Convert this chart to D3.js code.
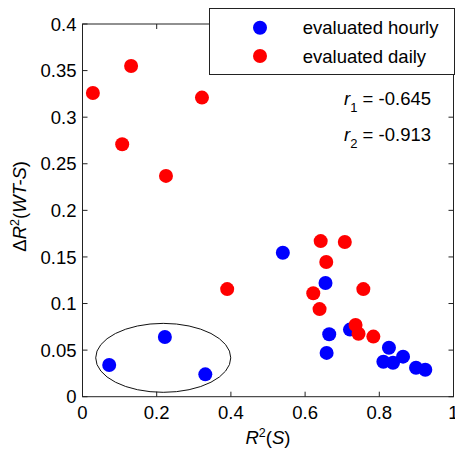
<!DOCTYPE html>
<html>
<head>
<meta charset="utf-8">
<script src="https://cdn.jsdelivr.net/npm/d3@7"></script>
<style>
  html, body { margin: 0; padding: 0; background: #fff; }
  svg { display: block; font-family: Arial, "Liberation Sans", sans-serif; }
</style>
</head>
<body>
<div id="chart"></div>
<script>
// R2(S) vs delta R2(WT-S), hourly vs daily evaluation
const hourlyX = [0.072, 0.222, 0.331, 0.540, 0.655, 0.665, 0.658, 0.721, 0.826, 0.864, 0.811, 0.837, 0.899, 0.924];
const hourlyY = [0.034, 0.064, 0.024, 0.1545, 0.122, 0.067, 0.047, 0.072, 0.0525, 0.043, 0.0375, 0.0365, 0.031, 0.029];
const dailyX = [0.028, 0.131, 0.107, 0.322, 0.225, 0.390, 0.642, 0.707, 0.657, 0.622, 0.757, 0.639, 0.736, 0.744, 0.784];
const dailyY = [0.326, 0.355, 0.271, 0.321, 0.237, 0.1155, 0.167, 0.166, 0.1445, 0.111, 0.1155, 0.094, 0.077, 0.0675, 0.0645];
const seriesNames = ['evaluated hourly', 'evaluated daily'];
const seriesColors = ['#0000ff', '#ff0000'];
const xTicks = [0, 0.2, 0.4, 0.6, 0.8, 1];
const xTickLabels = ['0', '0.2', '0.4', '0.6', '0.8', '1'];
const yTicks = [0, 0.05, 0.1, 0.15, 0.2, 0.25, 0.3, 0.35, 0.4];
const yTickLabels = ['0', '0.05', '0.1', '0.15', '0.2', '0.25', '0.3', '0.35', '0.4'];
const corrLabels = [['1', '= -0.645'], ['2', '= -0.913']];
// highlighted cluster (center x, center y, half-width, half-height) in data units
const ellipse = {cx: 0.2176, cy: 0.0417, rx: 0.182, ry: 0.037};

const W = 455, H = 456;
const svg = d3.select('#chart').append('svg').attr('width', W).attr('height', H);

const x = d3.scaleLinear().domain([0, 1]).range([82.5, 453.5]);
const y = d3.scaleLinear().domain([0, 0.4]).range([396.7, 24]);
const fs = 18.5;

// frame
svg.append('rect')
  .attr('x', x(0)).attr('y', y(0.4))
  .attr('width', x(1) - x(0)).attr('height', y(0) - y(0.4))
  .attr('fill', 'none').attr('stroke', '#222').attr('stroke-width', 1);

// ticks (inward, on all four sides)
const tl = 5;
xTicks.forEach(v => {
  svg.append('line').attr('x1', x(v)).attr('x2', x(v)).attr('y1', y(0)).attr('y2', y(0) - tl).attr('stroke', '#222');
  svg.append('line').attr('x1', x(v)).attr('x2', x(v)).attr('y1', y(0.4)).attr('y2', y(0.4) + tl).attr('stroke', '#222');
});
yTicks.forEach(v => {
  svg.append('line').attr('x1', x(0)).attr('x2', x(0) + tl).attr('y1', y(v)).attr('y2', y(v)).attr('stroke', '#222');
  svg.append('line').attr('x1', x(1)).attr('x2', x(1) - tl).attr('y1', y(v)).attr('y2', y(v)).attr('stroke', '#222');
});

svg.selectAll('.xt').data(xTicks).enter().append('text')
  .attr('x', d => x(d)).attr('y', 418.5)
  .attr('text-anchor', 'middle').attr('font-size', fs)
  .text((d, i) => xTickLabels[i]);
svg.selectAll('.yt').data(yTicks).enter().append('text')
  .attr('x', 76.5).attr('y', d => y(d) + 6.7)
  .attr('text-anchor', 'end').attr('font-size', fs)
  .text((d, i) => yTickLabels[i]);

// axis titles
const xt = svg.append('text').attr('x', (x(0) + x(1)) / 2).attr('y', 444)
  .attr('text-anchor', 'middle').attr('font-size', fs);
xt.append('tspan').attr('font-style', 'italic').text('R');
xt.append('tspan').attr('font-size', 12.5).attr('dy', -7).text('2');
xt.append('tspan').attr('dy', 7).text('(');
xt.append('tspan').attr('font-style', 'italic').text('S');
xt.append('tspan').text(')');

const yt = svg.append('text')
  .attr('transform', `translate(25.5,${(y(0) + y(0.4)) / 2 - 4}) rotate(-90)`)
  .attr('text-anchor', 'middle').attr('font-size', fs);
yt.append('tspan').text('\u0394');
yt.append('tspan').attr('font-style', 'italic').text('R');
yt.append('tspan').attr('font-size', 12.5).attr('dy', -7).text('2');
yt.append('tspan').attr('dy', 7).text('(');
yt.append('tspan').attr('font-style', 'italic').text('WT-S');
yt.append('tspan').text(')');

// ellipse around cluster
svg.append('ellipse')
  .attr('cx', x(ellipse.cx)).attr('cy', y(ellipse.cy))
  .attr('rx', x(ellipse.rx) - x(0)).attr('ry', y(0) - y(ellipse.ry))
  .attr('fill', 'none').attr('stroke', '#111').attr('stroke-width', 1);

// points: hourly first, daily on top
const R = 7;
svg.append('g').selectAll('circle').data(hourlyX.map((v, i) => [v, hourlyY[i]])).enter()
  .append('circle').attr('cx', d => x(d[0])).attr('cy', d => y(d[1])).attr('r', R).attr('fill', seriesColors[0]);
svg.append('g').selectAll('circle').data(dailyX.map((v, i) => [v, dailyY[i]])).enter()
  .append('circle').attr('cx', d => x(d[0])).attr('cy', d => y(d[1])).attr('r', R).attr('fill', seriesColors[1]);

// correlation labels
corrLabels.forEach((c, i) => {
  const t = svg.append('text').attr('x', 431).attr('y', 105 + i * 36)
    .attr('text-anchor', 'end').attr('font-size', fs);
  t.append('tspan').attr('font-style', 'italic').text('r');
  t.append('tspan').attr('font-size', 13).attr('dy', 7).text(c[0]);
  t.append('tspan').attr('dy', -7).text(' ' + c[1]);
});

// legend
const lg = svg.append('g');
lg.append('rect').attr('x', 209.5).attr('y', 8.5).attr('width', 245).attr('height', 66)
  .attr('fill', '#fff').attr('stroke', '#222').attr('stroke-width', 1);
seriesNames.forEach((name, i) => {
  lg.append('circle').attr('cx', 260).attr('cy', 27.7 + i * 28.3).attr('r', R).attr('fill', seriesColors[i]);
  lg.append('text').attr('x', 302.7).attr('y', 27.7 + i * 28.3 + 6.5).attr('font-size', fs).text(name);
});
</script>
</body>
</html>
